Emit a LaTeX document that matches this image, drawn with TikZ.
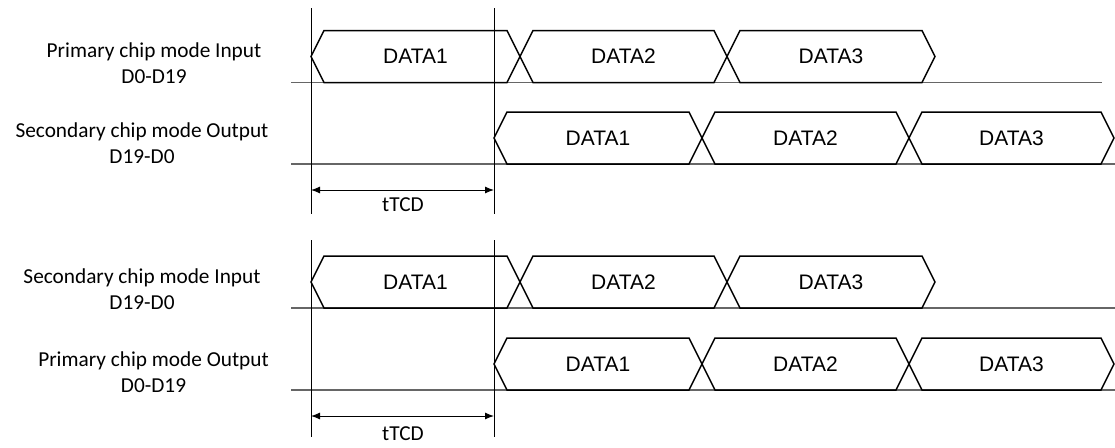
\documentclass[tikz,border=0pt]{standalone}
\usepackage{fontspec}
\setmainfont{Liberation Sans}
\newfontfamily\calib{Carlito}
\usetikzlibrary{arrows.meta}
\newcommand\hexbus[3]{%
  \draw[bus] (#1,#3) -- (#1+13,#3-26) -- (#2-13,#3-26) -- (#2,#3) -- (#2-13,#3+26) -- (#1+13,#3+26) -- cycle;}
\begin{document}
\begin{tikzpicture}[x=1pt,y=-1pt,
  bus/.style={line width=1.5pt, line join=miter, draw=black},
  base/.style={line width=1.1pt, draw=black!60},
  vline/.style={line width=1pt, draw=black},
  dtext/.style={font=\fontsize{21}{24}\selectfont, inner sep=0pt},
  lab/.style={font=\calib\fontsize{21.3}{26}\selectfont, align=center, inner sep=0pt},
  dimarrow/.style={line width=1pt, {Latex[length=9pt,width=7pt]}-{Latex[length=9pt,width=7pt]}}]
\useasboundingbox (0,0) rectangle (1115,447);

% ---- labels
\node[lab] (l1) at (154,63) {Primary chip mode Input\\D0-D19};
\node[lab] (l2) at (142,143) {Secondary chip mode Output\\D19-D0};
\node[lab] (l3) at (142,289) {Secondary chip mode Input\\D19-D0};
\node[lab] (l4) at (153.5,372) {Primary chip mode Output\\D0-D19};

% ---- baselines
\coordinate (b1s) at (291,82.5);  \coordinate (b1e) at (1102,82.5);
\coordinate (b2s) at (291,164);   \coordinate (b2e) at (1115,164);
\coordinate (b3s) at (291,308);   \coordinate (b3e) at (1115,308);
\coordinate (b4s) at (291,390);   \coordinate (b4e) at (1115,390);
\draw[base] (b1s) -- (b1e);
\draw[base] (b2s) -- (b2e);
\draw[base] (b3s) -- (b3e);
\draw[base] (b4s) -- (b4e);

% ---- vertical reference lines
\coordinate (v1t) at (311,8);   \coordinate (v1b) at (311,214);
\coordinate (v2t) at (494,8);   \coordinate (v2b) at (494,214);
\coordinate (v3t) at (311,240); \coordinate (v3b) at (311,437);
\coordinate (v4t) at (494,240); \coordinate (v4b) at (494,437);
\draw[vline] (v1t) -- (v1b);
\draw[vline] (v2t) -- (v2b);
\draw[vline] (v3t) -- (v3b);
\draw[vline] (v4t) -- (v4b);

% ---- buses
\hexbus{311}{520}{56.5}\hexbus{520}{727}{56.5}\hexbus{727}{935}{56.5}
\hexbus{494}{702}{138}\hexbus{702}{909}{138}\hexbus{909}{1114}{138}
\hexbus{311}{520}{282}\hexbus{520}{727}{282}\hexbus{727}{935}{282}
\hexbus{494}{702}{364}\hexbus{702}{909}{364}\hexbus{909}{1114}{364}

\node[dtext] (r1a) at (415.5,56.5) {DATA1};
\node[dtext] (r1b) at (623.5,56.5) {DATA2};
\node[dtext] (r1c) at (831,56.5) {DATA3};
\node[dtext] (r2a) at (598,138) {DATA1};
\node[dtext] (r2b) at (805.5,138) {DATA2};
\node[dtext] (r2c) at (1011.5,138) {DATA3};
\node[dtext] (r3a) at (415.5,282) {DATA1};
\node[dtext] (r3b) at (623.5,282) {DATA2};
\node[dtext] (r3c) at (831,282) {DATA3};
\node[dtext] (r4a) at (598,364) {DATA1};
\node[dtext] (r4b) at (805.5,364) {DATA2};
\node[dtext] (r4c) at (1011.5,364) {DATA3};

% ---- timing dimension
\coordinate (d1s) at (311,190); \coordinate (d1e) at (494,190);
\coordinate (d2s) at (311,416); \coordinate (d2e) at (494,416);
\draw[dimarrow] (d1s) -- (d1e);
\draw[dimarrow] (d2s) -- (d2e);
\node[lab] (t1) at (403,205) {tTCD};
\node[lab] (t2) at (403,434) {tTCD};
\end{tikzpicture}
\end{document}
